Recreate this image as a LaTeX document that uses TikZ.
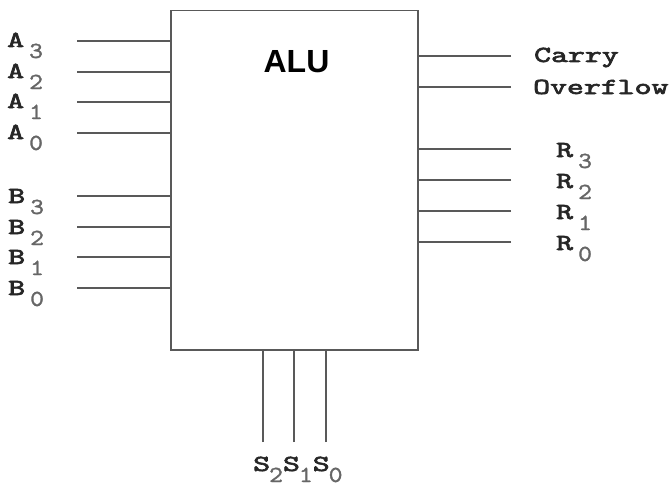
\documentclass[tikz,border=0pt]{standalone}
\usepackage{fontspec}
\setsansfont{Liberation Sans}
\newfontfamily\pinfont{lmmono10-regular.otf}[FakeBold=2.5]
\newfontfamily\idxfont{lmmono10-regular.otf}[FakeBold=1.2]
\usetikzlibrary{positioning,calc}

% letter with a dropped index, as on the pins
\newcommand{\bitlbl}[3][3pt]{\scalebox{1.4}[1]{#2}\hspace{#1}\raisebox{-11pt}{\textcolor{black!60}{\idxfont\scalebox{1.15}[1]{#3}}}}

\begin{document}
\begin{tikzpicture}[x=1pt,y=-1pt,
 wire/.style={draw=black!65,line width=1.6pt},
 lbl/.style={font=\fontsize{23}{23}\selectfont\pinfont,text=black!85,inner sep=0pt,anchor=base west}]
\useasboundingbox (0,0) rectangle (672,487);
\node[wire,minimum width=247pt,minimum height=339.5pt,inner sep=0pt] (alu) at (294.5,180.25) {};
\node[font=\fontsize{32}{32}\selectfont\sffamily\bfseries] (title) at (296.5,61.5) {ALU};
% operand pins
\coordinate (a3) at (77,41); \coordinate (a2) at (77,72);
\coordinate (a1) at (77,102); \coordinate (a0) at (77,133);
\coordinate (b3) at (77,196); \coordinate (b2) at (77,227);
\coordinate (b1) at (77,257); \coordinate (b0) at (77,288);
\draw[wire] (a3)--(a3 -| alu.west); \draw[wire] (a2)--(a2 -| alu.west);
\draw[wire] (a1)--(a1 -| alu.west); \draw[wire] (a0)--(a0 -| alu.west);
\draw[wire] (b3)--(b3 -| alu.west); \draw[wire] (b2)--(b2 -| alu.west);
\draw[wire] (b1)--(b1 -| alu.west); \draw[wire] (b0)--(b0 -| alu.west);
\node[lbl] (la3) at (7,47) {\bitlbl[5pt]{A}{3}};
\node[lbl] (la2) at (7,78) {\bitlbl[5pt]{A}{2}};
\node[lbl] (la1) at (7,108) {\bitlbl[5pt]{A}{1}};
\node[lbl] (la0) at (7,139) {\bitlbl[5pt]{A}{0}};
\node[lbl] (lb3) at (8,203) {\bitlbl[5pt]{B}{3}};
\node[lbl] (lb2) at (8,234) {\bitlbl[5pt]{B}{2}};
\node[lbl] (lb1) at (8,264) {\bitlbl[5pt]{B}{1}};
\node[lbl] (lb0) at (8,295) {\bitlbl[5pt]{B}{0}};
% flags and result pins
\coordinate (cy) at (511,56); \coordinate (ov) at (511,87);
\coordinate (r3) at (511,149); \coordinate (r2) at (511,180);
\coordinate (r1) at (511,211); \coordinate (r0) at (511,242);
\draw[wire] (cy)--(cy -| alu.east); \draw[wire] (ov)--(ov -| alu.east);
\draw[wire] (r3)--(r3 -| alu.east); \draw[wire] (r2)--(r2 -| alu.east);
\draw[wire] (r1)--(r1 -| alu.east); \draw[wire] (r0)--(r0 -| alu.east);
\node[lbl] (carry) at (534,62) {\scalebox{1.4}[1]{Carry}};
\node[lbl] (overflow) at (533,94) {\scalebox{1.4}[1]{Overflow}};
\node[lbl] (lr3) at (556,157) {\bitlbl[5pt]{R}{3}};
\node[lbl] (lr2) at (556,188) {\bitlbl[5pt]{R}{2}};
\node[lbl] (lr1) at (556,219) {\bitlbl[5pt]{R}{1}};
\node[lbl] (lr0) at (556,250) {\bitlbl[5pt]{R}{0}};
% select pins
\coordinate (s2) at (263,442); \coordinate (s1) at (294,442); \coordinate (s0) at (326,442);
\draw[wire] (s2)--(s2 |- alu.south); \draw[wire] (s1)--(s1 |- alu.south);
\draw[wire] (s0)--(s0 |- alu.south);
\node[lbl] (sel) at (253,471) {\bitlbl[-1pt]{S}{2}\bitlbl[-1pt]{S}{1}\bitlbl[-1pt]{S}{0}};
\end{tikzpicture}
\end{document}
